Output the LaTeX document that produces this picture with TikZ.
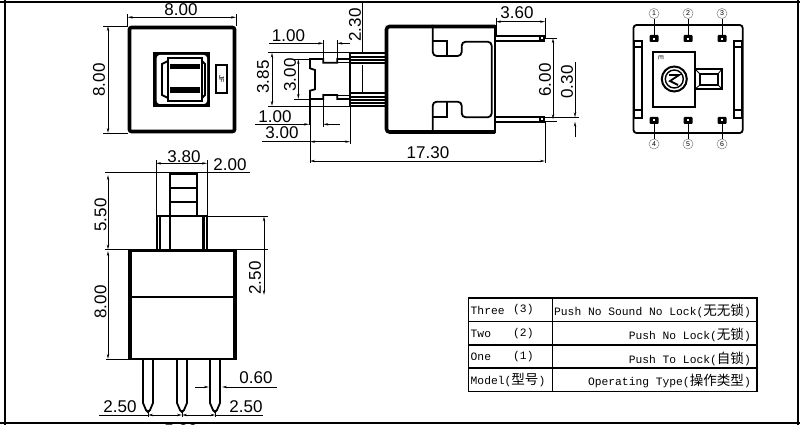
\documentclass[tikz,border=0pt]{standalone}
\usepackage{fontspec}
\usetikzlibrary{arrows.meta}
\setmainfont{Liberation Sans}
\setmonofont{Liberation Mono}
\newfontfamily\zh[Scale=1.2]{Noto Sans CJK SC}
\begin{document}
\begin{tikzpicture}
        [x=1pt,y=-1pt,
        >={Stealth[length=5pt,width=2.4pt]},
        dim/.style={line width=0.8pt, <->},
        lead/.style={line width=0.8pt, ->},
        ext/.style={line width=0.8pt},
        part/.style={line width=1.8pt},
        heavy/.style={line width=3.6pt},
        dimtext/.style={inner sep=0pt, font=\fontsize{17}{17}\selectfont},
        pinnum/.style={circle, draw=gray, line width=0.5pt, minimum size=10pt, inner sep=0pt, font=\fontsize{7}{7}\selectfont},
        cellL/.style={inner sep=0pt, anchor=west, font=\ttfamily\fontsize{11.3}{11.3}\selectfont},
        cellR/.style={inner sep=0pt, anchor=east, font=\ttfamily\fontsize{11.3}{11.3}\selectfont}]
        \useasboundingbox (0,0) rectangle (800,425);
        \clip (0,0) rectangle (800,425);

        % sheet frame
        \draw[line width=2pt] (0,2.5) -- (800,2.5);
        \draw[line width=2pt] (0,423) -- (800,423);
        \draw[line width=2pt] (5,0) -- (5,425);
        \draw[line width=2pt] (798,0) -- (798,425);

        % top view
        \draw[heavy, rounded corners=2pt] (129.5,27.5) rectangle (234.5,131.5);
        \fill[black] (153.3,52) rectangle (210,107);
        \fill[white, rounded corners=3pt] (156.7,55) rectangle (207,104);
        \draw[part] (168,58) rectangle (202,101);
        \fill[black] (170,64) rectangle (200,69);
        \fill[black] (170,87.5) rectangle (200,93);
        \draw[part] (168,61) -- (162,64) -- (162,95) -- (168,98);
        \draw[part] (202,61) -- (205,64) -- (205,95) -- (202,98);
        \draw[line width=2pt] (216,65) rectangle (227,93);
        \node[inner sep=0pt, rotate=-90, font=\fontsize{7}{7}\selectfont] (brand) at (221.5,79) {JF};
        \draw[dim] (127.7,17.3) -- (236,17.3);
        \draw[ext] (127.7,14) -- (127.7,26);
        \draw[ext] (236,14) -- (236,26);
        \node[dimtext] (topW) at (181,9.5) {8.00};
        \draw[dim] (108,26) -- (108,133);
        \draw[ext] (103,26) -- (128,26);
        \draw[ext] (103,133) -- (128,133);
        \node[dimtext, rotate=90] (topH) at (99,80) {8.00};

        % side view, body
        \draw[heavy, rounded corners=3pt] (495,26.5) -- (386.5,26.5) -- (386.5,132) -- (495,132);
        \draw[part] (495,25) -- (495,133.5);
        \draw[part, rounded corners=4pt] (432.7,25) -- (432.7,56) -- (461.7,56) -- (461.7,41.7) -- (491.7,41.7) -- (491.7,117.3) -- (461.7,117.3) -- (461.7,101.7) -- (432.7,101.7) -- (432.7,133);
        \draw[part] (432.7,40.7) -- (446.7,40.7) -- (446.7,56);
        \draw[part] (432.7,117.3) -- (446.7,117.3) -- (446.7,101.7);
        % side view, plunger
        \draw[line width=2.4pt] (350,52.7) -- (350,106);
        \foreach \y in {52.7,57.3,60,63.3,93.3,96.7,100,103.3,106}
            \draw[part] (350,\y) -- (385,\y);
        \draw[part] (350,59) -- (337.3,59) -- (337.3,62.7) -- (323.3,62.7) -- (323.3,59) -- (310,59) -- (310,68.3) -- (315,70) -- (315,89.3) -- (310,90.7) -- (310,99) -- (323.3,99) -- (323.3,95) -- (337.3,95) -- (337.3,99) -- (350,99);
        \draw[ext] (337.3,62.7) -- (350,62.7);
        \draw[ext] (337.3,95) -- (350,95);
        % side view, pins
        \foreach \y in {35.7,40.7,116.7,121.7}
            \draw[part] (495,\y) -- (545,\y);
        \fill[black] (539,35) rectangle (545,41.5);
        \fill[black] (539,116) rectangle (545,122.5);
        \fill[white] (541,37.5) rectangle (543,39);
        \fill[white] (541,118.5) rectangle (543,120);
        % side view, dimensions
        \node[dimtext] (plungeA) at (288.5,35.5) {1.00};
        \draw[lead] (269,43.3) -- (323.3,43.3);
        \draw[lead] (350,43.3) -- (337.3,43.3);
        \draw[ext] (323.3,40) -- (323.3,60);
        \draw[ext] (337.3,40) -- (337.3,63);
        \node[dimtext, rotate=90] (plungeB) at (355,25) {2.30};
        \draw[ext] (362.3,3) -- (362.3,52);
        \draw[ext] (362.3,65) -- (362.3,93);
        \node[dimtext, rotate=90] (plungeC) at (263,77) {3.85};
        \draw[dim] (272,52.7) -- (272,106);
        \draw[ext] (268,52.7) -- (350,52.7);
        \draw[ext] (268,106) -- (350,106);
        \node[dimtext, rotate=90] (plungeD) at (290,75) {3.00};
        \draw[dim] (298.3,59) -- (298.3,99);
        \draw[ext] (294,59) -- (310,59);
        \draw[ext] (294,99) -- (310,99);
        \node[dimtext] (plungeE) at (275,116.5) {1.00};
        \draw[lead] (255,124.3) -- (309,124.3);
        \draw[lead] (340,124.3) -- (323.3,124.3);
        \draw[ext] (323.3,99) -- (323.3,127);
        \node[dimtext] (plungeF) at (282,133) {3.00};
        \draw[ext] (262,141.7) -- (310,141.7);
        \draw[dim] (310,141.7) -- (350,141.7);
        \draw[part] (310,99) -- (310,125);
        \draw[ext] (310,125) -- (310,163);
        \draw[ext] (350,106) -- (350,144);
        \node[dimtext] (sideL) at (428,152.7) {17.30};
        \draw[dim] (310,161) -- (545,161);
        \draw[ext] (545,18) -- (545,38.3);
        \draw[ext] (545,121.7) -- (545,163);
        \node[dimtext] (pinL) at (517,13) {3.60};
        \draw[dim] (496,21.7) -- (545,21.7);
        \draw[ext] (496,18) -- (496,35);
        \node[dimtext, rotate=90] (pinGap) at (545,80) {6.00};
        \draw[dim] (553,38.3) -- (553,119.3);
        \draw[ext] (545,38.3) -- (557,38.3);
        \draw[ext] (545,117.3) -- (579,117.3);
        \draw[ext] (545,121.7) -- (557,121.7);
        \node[dimtext, rotate=90] (pinT) at (567,82) {0.30};
        \draw[lead] (575,62) -- (575,117.3);
        \draw[lead] (575,137) -- (575,121.7);

        % terminal view
        \draw[line width=1.8pt, rounded corners=3pt] (633.5,25) rectangle (742.7,133);
        \foreach \x/\n in {654/1,688/2,722/3}{
            \node[pinnum] (num\n) at (\x,13.5) {\n};
            \fill[black, rounded corners=1pt] (\x-4.5,35) rectangle (\x+4.5,42);
            \fill[white] (\x-1,38) rectangle (\x+1,40);
            \draw[ext] (num\n) -- (\x,35);
        }
        \foreach \x/\n in {654/4,688/5,722/6}{
            \node[pinnum] (num\n) at (\x,144) {\n};
            \fill[black, rounded corners=1pt] (\x-4.5,117) rectangle (\x+4.5,124);
            \fill[white] (\x-1,119.5) rectangle (\x+1,121.5);
            \draw[ext] (num\n) -- (\x,124);
        }
        \foreach \x in {634,734}{
            \draw[line width=2.2pt] (\x,41) rectangle (\x+7.7,118);
            \draw[part] (\x,47) -- (\x+7.7,47);
            \draw[part] (\x,110) -- (\x+7.7,110);
        }
        \draw[line width=1.8pt] (653.3,52) rectangle (695,107);
        \node[inner sep=0pt, rotate=-90, font=\fontsize{7}{7}\selectfont] (maker) at (661,57.5) {E};
        \draw[line width=2pt] (674.3,79) circle (12.5pt);
        \draw[line width=1.4pt] (674.3,79) circle (9pt);
        \draw[part] (669,75) -- (679,75) -- (670,81) -- (678,85);
        \draw[line width=1.8pt] (695,69) rectangle (722,89);
        \draw[line width=1.6pt] (700,74) rectangle (718,85);
        \draw[ext] (695,69) -- (700,74);
        \draw[ext] (695,89) -- (700,85);
        \draw[ext] (722,69) -- (718,74);
        \draw[ext] (722,89) -- (718,85);

        % front view
        \draw[line width=2pt] (130,251) rectangle (235,359);
        \draw[line width=4pt] (130,250) -- (130,360);
        \draw[line width=4pt] (234.5,250) -- (234.5,360);
        \draw[line width=3pt] (128,250.5) -- (236.5,250.5);
        \draw[line width=2pt] (128,297) -- (236,297);
        \draw[part] (157,250) -- (157,216) -- (207,216) -- (207,250);
        \draw[line width=2pt] (160,216) -- (160,250);
        \draw[line width=2.2pt] (170,173) -- (170,250);
        \draw[line width=2.6pt] (203.5,216) -- (203.5,250);
        \draw[line width=2.2pt] (197,173) -- (197,216);
        \draw[line width=2.4pt] (170,173.5) -- (197,173.5);
        \draw[line width=2pt] (170,188) -- (197,188);
        \draw[line width=2pt] (170,202) -- (197,202);
        \foreach \x in {148,182,215}
            \draw[part] (\x-5,360) -- (\x-5,403) -- (\x-2,410) -- (\x,412) -- (\x+2,410) -- (\x+5,403) -- (\x+5,360);
        % front view, dimensions
        \node[dimtext] (frontA) at (184,156.5) {3.80};
        \draw[dim] (156,163.3) -- (207,163.3);
        \draw[ext] (156,160) -- (156,216);
        \draw[ext] (207,160) -- (207,216);
        \node[dimtext] (frontB) at (230,165) {2.00};
        \draw[ext] (197,172.7) -- (250,172.7);
        \draw[ext] (105,172.7) -- (170,172.7);
        \node[dimtext, rotate=90] (frontC) at (100.5,215) {5.50};
        \draw[dim] (108,175) -- (108,249.5);
        \draw[ext] (105,249.5) -- (128,249.5);
        \draw[ext] (236,249.5) -- (268,249.5);
        \node[dimtext, rotate=90] (frontD) at (100.5,302) {8.00};
        \draw[dim] (108,251) -- (108,359);
        \draw[ext] (106,359.3) -- (128,359.3);
        \node[dimtext, rotate=90] (frontE) at (255,278) {2.50};
        \draw[dim] (264,216.5) -- (264,295);
        \draw[ext] (207,216) -- (268,216);
        \node[dimtext] (frontF) at (256,378) {0.60};
        \draw[lead] (195,387) -- (209,387);
        \draw[lead] (277,387) -- (222,387);
        \node[dimtext] (frontG) at (120,407) {2.50};
        \node[dimtext] (frontH) at (246,407) {2.50};
        \node[dimtext] (frontI) at (181,431) {5.00};
        \draw[ext] (99,415) -- (148,415);
        \draw[dim] (148,415) -- (182,415);
        \draw[dim] (182,415) -- (215.5,415);
        \draw[ext] (215.5,415) -- (263,415);
        \foreach \x in {148,182,215.5}
            \draw[ext] (\x,410) -- (\x,417);

        % type table
        \draw[line width=1.5pt] (468.5,298) rectangle (757,391.7);
        \foreach \y in {321.7,345,368}
            \draw[line width=1.5pt] (468.5,\y) -- (757,\y);
        \draw[line width=1.5pt] (552.7,298) -- (552.7,391.7);
        \node[cellL] (typeThree) at (470.5,310) {Three};
        \node[cellL] (typeTwo) at (470.5,333.5) {Two};
        \node[cellL] (typeOne) at (470.5,357) {One};
        \node[cellL] (typeModel) at (470.5,380) {Model({\zh 型号})};
        \node[cellL] (numThree) at (513,310) {(3)};
        \node[cellL] (numTwo) at (513,333.5) {(2)};
        \node[cellL] (numOne) at (513,357) {(1)};
        \node[cellR] (opThree) at (751,311) {Push No Sound No Lock({\zh 无无锁})};
        \node[cellR] (opTwo) at (751,335) {Push No Lock({\zh 无锁})};
        \node[cellR] (opOne) at (751,358.5) {Push To Lock({\zh 自锁})};
        \node[cellR] (opModel) at (751,381) {Operating Type({\zh 操作类型})};
    \end{tikzpicture}
\end{document}
